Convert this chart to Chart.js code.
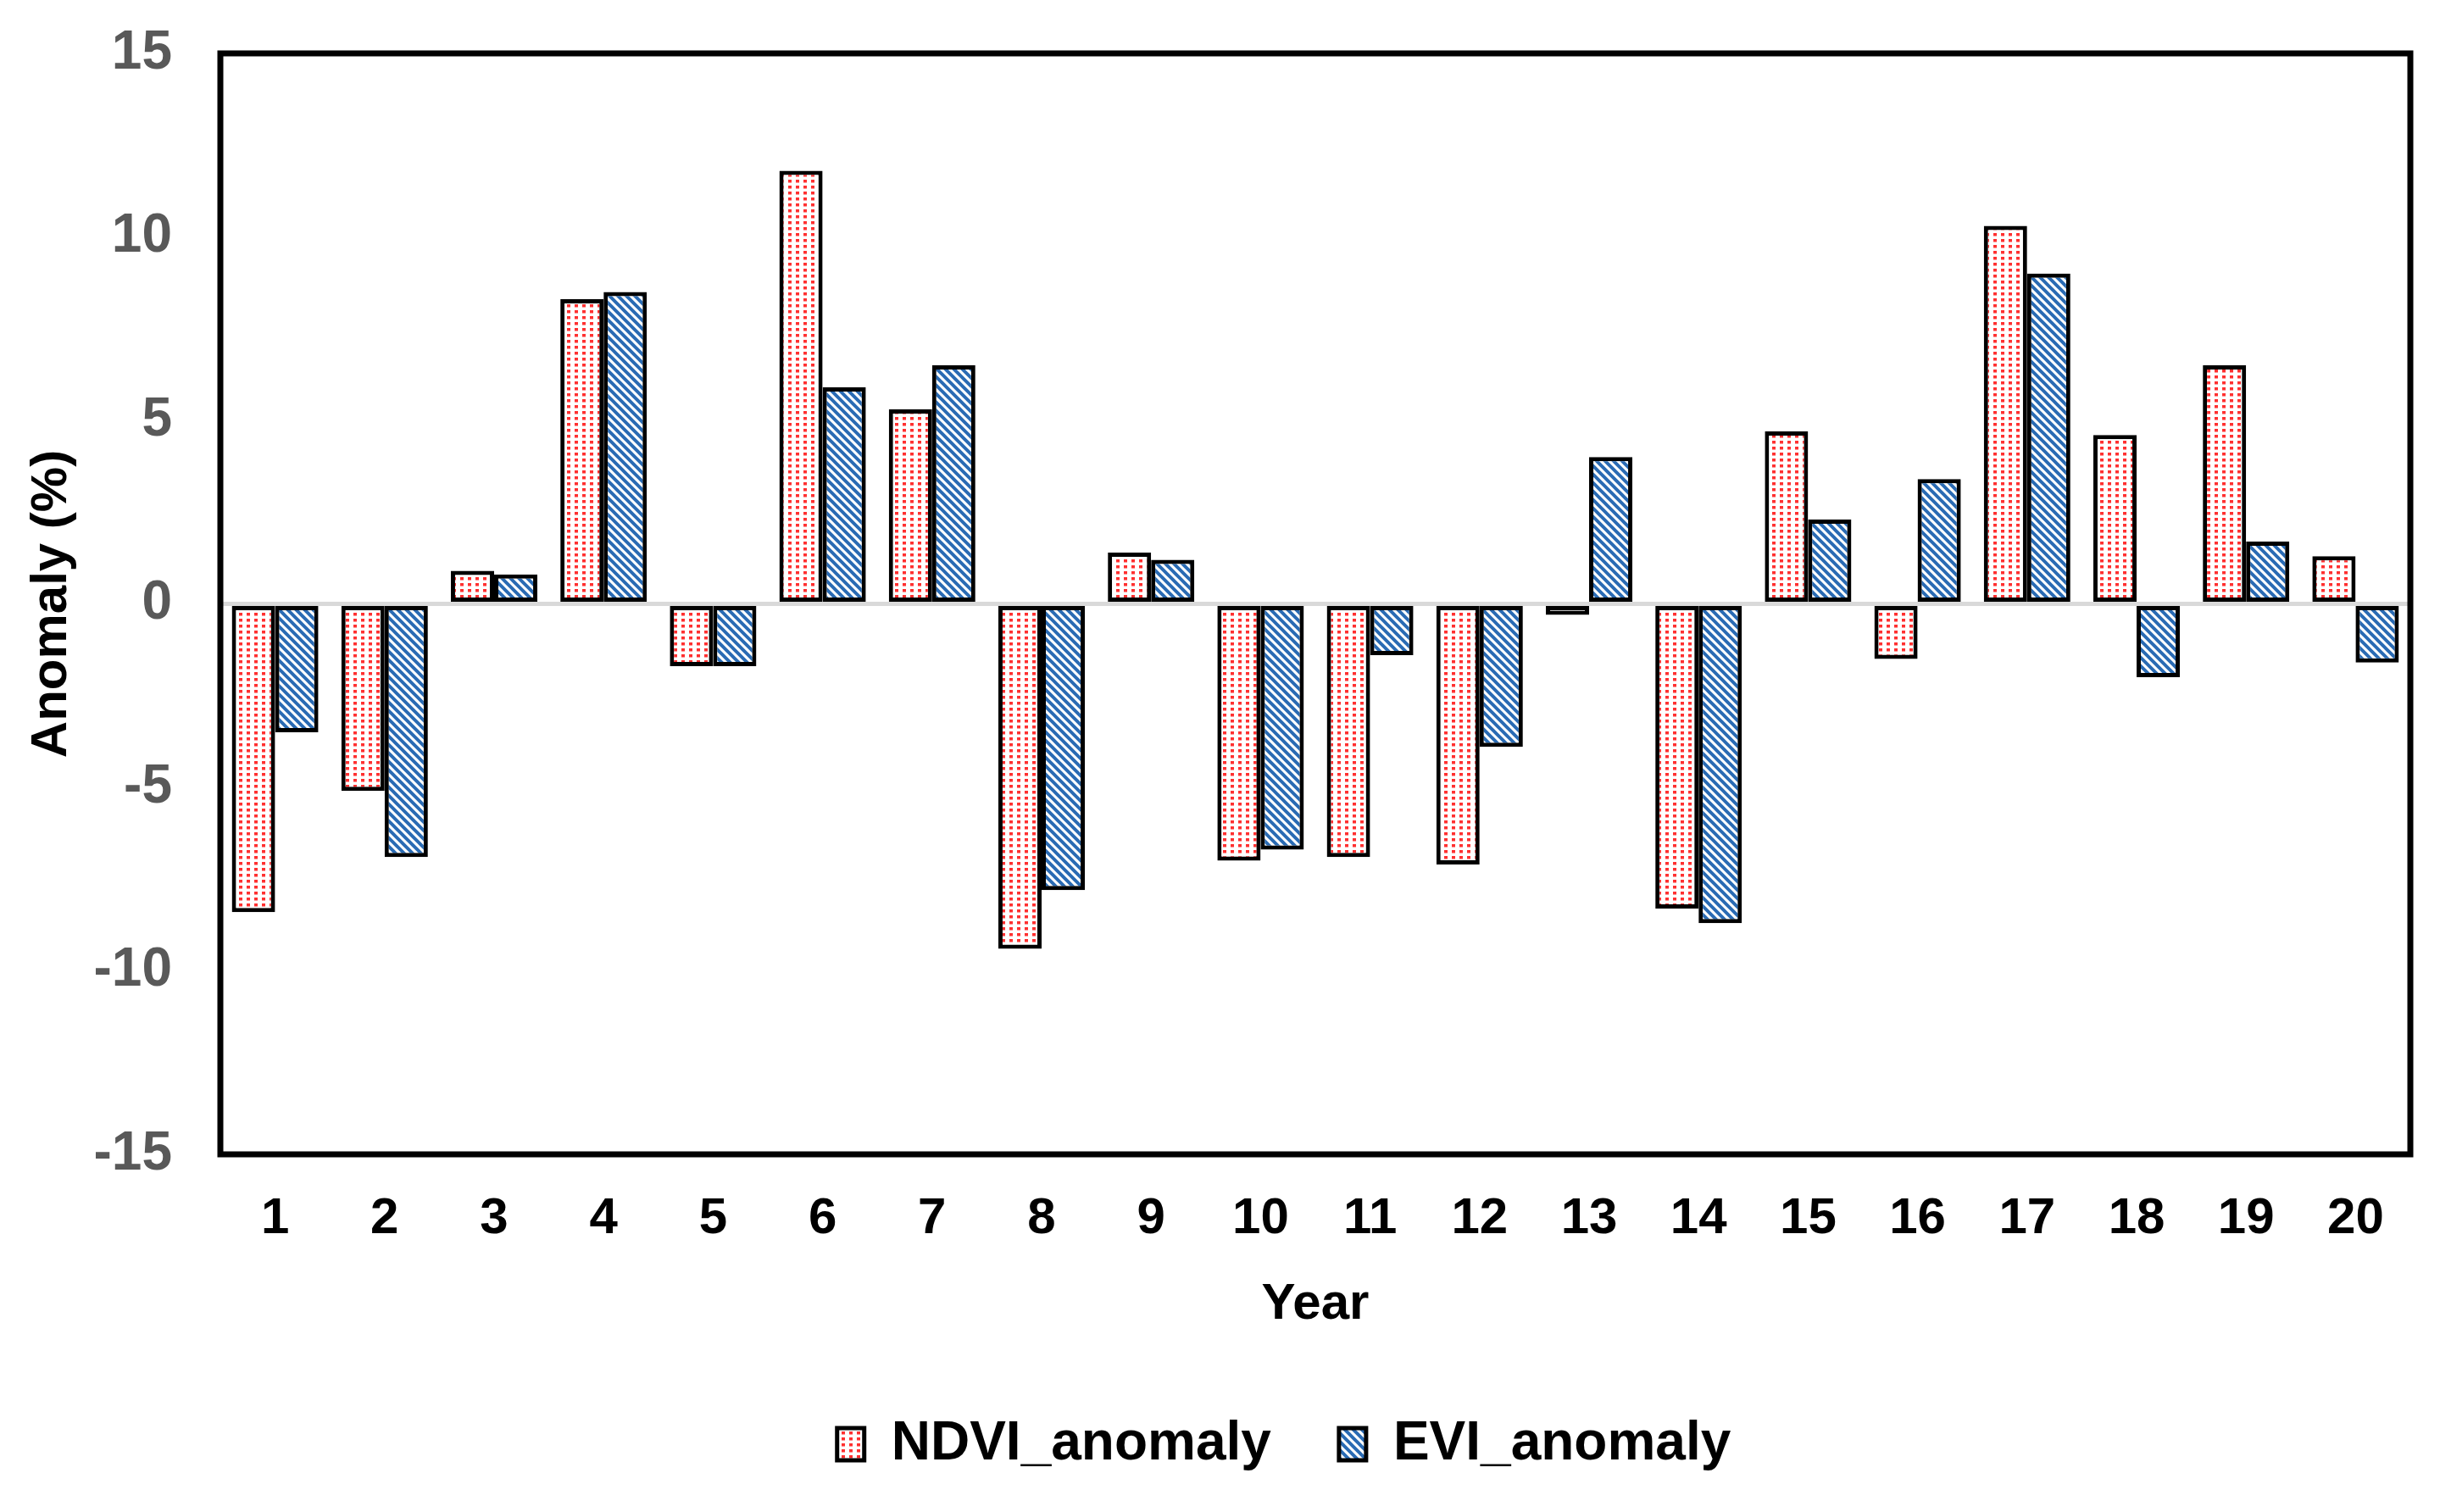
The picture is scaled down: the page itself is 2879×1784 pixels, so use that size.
<!DOCTYPE html>
<html>
<head>
<meta charset="utf-8">
<script src="https://cdn.jsdelivr.net/npm/chart.js@4"></script>
<style>
  html, body { margin: 0; padding: 0; background: #fff; }
  #wrap { width: 2879px; height: 1784px; }
</style>
</head>
<body>
<div id="wrap"><canvas id="myChart"></canvas></div>
<script>
// data
const years = ['1','2','3','4','5','6','7','8','9','10','11','12','13','14','15','16','17','18','19','20'];
const ndviAnomaly = [-8.4, -5.1, 0.9, 8.3, -1.7, 11.8, 5.3, -9.4, 1.4, -7.0, -6.9, -7.1, -0.3, -8.3, 4.7, -1.5, 10.3, 4.6, 6.5, 1.3];
const eviAnomaly = [-3.5, -6.9, 0.8, 8.5, -1.7, 5.9, 6.5, -7.8, 1.2, -6.7, -1.4, -3.9, 4.0, -8.7, 2.3, 3.4, 9.0, -2.0, 1.7, -1.6];
const yTicks = [-15, -10, -5, 0, 5, 10, 15];

// red dotted fill
function dotPattern() {
    const c = document.createElement('canvas');
    c.width = 9; c.height = 7;
    const g = c.getContext('2d');
    g.fillStyle = '#ffffff';
    g.fillRect(0, 0, 9, 7);
    g.fillStyle = '#ff3030';
    g.fillRect(3, 2, 4, 3.5);
    return g.createPattern(c, 'repeat');
}

// blue downward diagonal stripes
function stripePattern() {
    const s = 10;
    const c = document.createElement('canvas');
    c.width = s; c.height = s;
    const g = c.getContext('2d');
    g.fillStyle = '#ffffff';
    g.fillRect(0, 0, s, s);
    g.strokeStyle = '#2a6bb4';
    g.lineWidth = 4;
    g.beginPath();
    g.moveTo(-s, 0); g.lineTo(s * 2, s * 3);
    g.moveTo(-s, -s); g.lineTo(s * 2, s * 2);
    g.moveTo(-s, -2 * s); g.lineTo(s * 2, s);
    g.stroke();
    return g.createPattern(c, 'repeat');
}

// black frame round the plot area
const frame = {
    id: 'frame',
    afterDatasetsDraw(chart) {
        const a = chart.chartArea;
        const ctx = chart.ctx;
        ctx.save();
        ctx.strokeStyle = '#000';
        ctx.lineWidth = 7;
        ctx.strokeRect(a.left, a.top, a.right - a.left, a.bottom - a.top);
        ctx.restore();
    }
};

// legend sits a little right of the canvas centre in the original
const legendShift = {
    id: 'legendShift',
    afterLayout(chart) {
        chart.legend.left += 93;
        chart.legend.right += 93;
    }
};

const font = 'Liberation Sans, Arial, sans-serif';

var ctx = document.getElementById('myChart').getContext('2d');
var chart = new Chart(ctx, {
    type: 'bar',
    data: {
        labels: years,
        datasets: [
            {
                label: 'NDVI_anomaly',
                data: ndviAnomaly,
                backgroundColor: dotPattern(),
                borderColor: '#000',
                borderWidth: 5,
                borderSkipped: false
            },
            {
                label: 'EVI_anomaly',
                data: eviAnomaly,
                backgroundColor: stripePattern(),
                borderColor: '#000',
                borderWidth: 5,
                borderSkipped: false
            }
        ]
    },
    options: {
        responsive: true,
        maintainAspectRatio: false,
        devicePixelRatio: 1,
        animation: false,
        layout: { padding: { left: 0, right: 35, top: 0, bottom: 38 } },
        datasets: { bar: { categoryPercentage: 0.79, barPercentage: 1.0 } },
        plugins: {
            tooltip: { enabled: false },
            legend: {
                position: 'bottom',
                labels: {
                    color: '#000',
                    font: { family: font, size: 64, weight: 'bold' },
                    boxWidth: 32,
                    boxHeight: 38,
                    padding: 80
                }
            }
        },
        scales: {
            x: {
                grid: { display: false, drawTicks: false },
                border: { display: false },
                ticks: {
                    color: '#000',
                    padding: 40,
                    maxRotation: 0,
                    font: { family: font, size: 60, weight: 'bold' }
                },
                title: {
                    display: true,
                    text: 'Year',
                    color: '#000',
                    padding: { top: -11, bottom: 17 },
                    font: { family: font, size: 60, weight: 'bold' }
                }
            },
            y: {
                min: -15,
                max: 15,
                afterBuildTicks(scale) {
                    scale.ticks = yTicks.map(v => ({ value: v }));
                },
                afterFit(scale) {
                    scale.width = 260;
                    scale.paddingTop = 63;
                    scale.paddingBottom = 40;
                },
                grid: {
                    drawTicks: false,
                    color: c => (c.tick && c.tick.value === 0) ? '#d9d9d9' : 'rgba(0,0,0,0)',
                    lineWidth: 5
                },
                border: { display: false },
                ticks: {
                    color: '#595959',
                    padding: 57,
                    font: { family: font, size: 64, weight: 'bold' }
                },
                title: {
                    display: true,
                    text: 'Anomaly (%)',
                    color: '#000',
                    padding: { top: 25, bottom: 0 },
                    font: { family: font, size: 60, weight: 'bold' }
                }
            }
        }
    },
    plugins: [frame, legendShift]
});
</script>
</body>
</html>
